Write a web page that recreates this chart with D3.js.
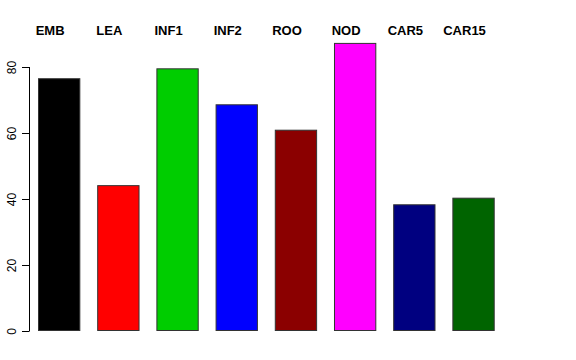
<!DOCTYPE html>
<html>
<head>
<meta charset="utf-8">
<script src="https://cdn.jsdelivr.net/npm/d3@7"></script>
<style>
  body { margin: 0; background: #fff; }
  svg { display: block; font-family: "Liberation Sans", Arial, sans-serif; }
</style>
</head>
<body>
<div id="chart"></div>
<script>
const categories = ["EMB", "LEA", "INF1", "INF2", "ROO", "NOD", "CAR5", "CAR15"];
const values = [76.6, 44.2, 79.6, 68.7, 61.0, 87.3, 38.4, 40.4];
const barColors = ["#000000", "#ff0000", "#00cd00", "#0000ff", "#8b0000", "#ff00ff", "#000080", "#006400"];
const yTicks = [0, 20, 40, 60, 80];

const width = 576;
const height = 360;

const svg = d3.select("#chart")
  .append("svg")
  .attr("width", width)
  .attr("height", height);

const x = d3.scaleBand()
  .domain(categories)
  .range([38, 494.7])
  .paddingInner(0.285)
  .paddingOuter(0);

const y = d3.scaleLinear()
  .domain([0, 80])
  .range([331, 67]);

// bars
svg.selectAll(".bar")
  .data(values)
  .enter()
  .append("rect")
  .attr("class", "bar")
  .attr("x", (d, i) => x(categories[i]) + 0.5)
  .attr("y", d => y(d) + 0.5)
  .attr("width", x.bandwidth() - 1)
  .attr("height", d => y(0) - y(d) - 1)
  .attr("fill", (d, i) => barColors[i])
  .attr("stroke", "#333")
  .attr("stroke-width", 1);

// y axis, R style
const axis = svg.append("g")
  .attr("transform", "translate(29.5,0)")
  .call(d3.axisLeft(y).tickValues(yTicks).tickSize(7.5).tickPadding(0));

axis.select(".domain")
  .attr("d", `M0,${y(0)}V${y(80)}`)
  .attr("stroke", "#000");

axis.selectAll(".tick line").attr("stroke", "#000");

axis.selectAll(".tick text")
  .attr("x", 0)
  .attr("dy", 0)
  .attr("transform", "translate(-13.5,0) rotate(-90)")
  .attr("text-anchor", "middle")
  .style("font-family", "'Liberation Sans', Arial, sans-serif")
  .style("font-size", "12px")
  .attr("fill", "#000");

// category labels along the top
svg.selectAll(".label")
  .data(categories)
  .enter()
  .append("text")
  .attr("class", "label")
  .attr("x", d => x(d) + x.bandwidth() / 2 - 9)
  .attr("y", 34.5)
  .attr("text-anchor", "middle")
  .style("font-size", "13px")
  .style("font-weight", "bold")
  .text(d => d);
</script>
</body>
</html>
